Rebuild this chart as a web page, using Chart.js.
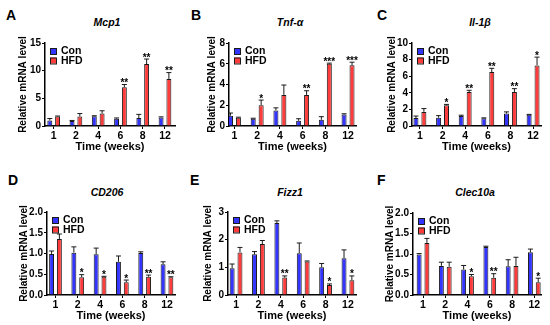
<!DOCTYPE html>
<html>
<head>
<meta charset="utf-8">
<script src="https://cdn.jsdelivr.net/npm/chart.js@4.4.1/dist/chart.umd.min.js"></script>
<style>
    body { margin: 0; background: #fff; width: 550px; height: 325px; position: relative; overflow: hidden; font-family: "Liberation Sans", Arial, sans-serif; }
    .letter { position: absolute; font-weight: bold; font-size: 14px; line-height: 14px; color: #000; }
    .gene { position: absolute; font-weight: bold; font-style: italic; font-size: 10.5px; color: #000; transform: translate(-50%, -50%); white-space: nowrap; }
    canvas { position: absolute; }
</style>
</head>
<body>
<script>
// Semaines (étiquettes de l'axe X)
const weeks = ['1', '2', '4', '6', '8', '12'];
const seriesNames = ['Con', 'HFD'];

// Mcp1
const mcp1Con = [1.0, 0.9, 1.75, 1.3, 1.45, 1.55];
const mcp1ConErr = [0.35, 0.1, 0.1, 0.15, 0.65, 0.1];
const mcp1Hfd = [1.7, 1.7, 2.25, 7.0, 11.2, 8.5];
const mcp1HfdErr = [0.1, 0.55, 0.5, 0.5, 0.9, 1.15];
const mcp1Stars = ['', '', '', '**', '**', '**'];

// Tnf-α
const tnfCon = [1.0, 0.7, 1.5, 0.5, 0.6, 1.1];
const tnfConErr = [0.25, 0.05, 0.25, 0.2, 0.3, 0.08];
const tnfHfd = [0.8, 2.0, 3.0, 3.0, 6.0, 5.85];
const tnfHfdErr = [0.05, 0.5, 0.95, 0.4, 0.06, 0.3];
const tnfStars = ['', '*', '', '**', '***', '***'];

// Il-1β
const il1bCon = [0.95, 1.0, 1.2, 0.93, 1.5, 1.35];
const il1bConErr = [0.25, 0.25, 0.1, 0.05, 0.2, 0.05];
const il1bHfd = [1.7, 2.5, 4.1, 6.5, 4.1, 7.3];
const il1bHfdErr = [0.4, 0.1, 0.2, 0.45, 0.4, 1.0];
const il1bStars = ['', '*', '**', '**', '**', '*'];

// CD206
const cd206Con = [0.99, 1.02, 0.98, 0.8, 1.01, 0.74];
const cd206ConErr = [0.07, 0.14, 0.15, 0.14, 0.03, 0.06];
const cd206Hfd = [1.35, 0.43, 0.44, 0.31, 0.44, 0.43];
const cd206HfdErr = [0.12, 0.06, 0.01, 0.05, 0.04, 0.01];
const cd206Stars = ['', '*', '*', '*', '**', '**'];

// Fizz1
const fizz1Con = [0.97, 1.47, 2.6, 1.51, 1.0, 1.33];
const fizz1ConErr = [0.15, 0.1, 0.08, 0.37, 0.14, 0.3];
const fizz1Hfd = [1.54, 1.84, 0.63, 1.21, 0.36, 0.53];
const fizz1HfdErr = [0.18, 0.13, 0.06, 0.02, 0.04, 0.16];
const fizz1Stars = ['', '', '**', '', '*', '*'];

// Clec10a
const clec10aCon = [0.99, 0.71, 0.62, 1.17, 0.7, 1.04];
const clec10aConErr = [0.02, 0.09, 0.1, 0.02, 0.16, 0.08];
const clec10aHfd = [1.27, 0.69, 0.46, 0.42, 0.71, 0.31];
const clec10aHfdErr = [0.11, 0.11, 0.04, 0.1, 0.21, 0.1];
const clec10aStars = ['', '', '*', '**', '', '*'];

const BLUE = '#3434ff';
const RED = '#ff3c3c';
const EDGE = '#1a1a1a';
const FONT = '"Liberation Sans", Arial, sans-serif';

// Mise en page des panneaux
const panels = [
    { letter: 'A', gene: 'Mcp1', con: mcp1Con, conErr: mcp1ConErr, hfd: mcp1Hfd, hfdErr: mcp1HfdErr, stars: mcp1Stars,
      yMax: 15, step: 5, dec: 0, axisX: 45, right: 175, top: 43, bottom: 126, yTitleX: 23, xMin: -0.39, xMax: 5.45,
      letterX: 6, letterY: 8, geneX: 107, geneY: 22 },
    { letter: 'B', gene: 'Tnf-α', con: tnfCon, conErr: tnfConErr, hfd: tnfHfd, hfdErr: tnfHfdErr, stars: tnfStars,
      yMax: 8, step: 2, dec: 0, axisX: 229, right: 356, top: 43, bottom: 126, yTitleX: 212, xMin: -0.24, xMax: 5.35,
      letterX: 191, letterY: 8, geneX: 290, geneY: 22 },
    { letter: 'C', gene: 'Il-1β', con: il1bCon, conErr: il1bConErr, hfd: il1bHfd, hfdErr: il1bHfdErr, stars: il1bStars,
      yMax: 10, step: 2, dec: 0, axisX: 412, right: 541, top: 43, bottom: 126, yTitleX: 392, xMin: -0.35, xMax: 5.35,
      letterX: 377, letterY: 8, geneX: 480, geneY: 22 },
    { letter: 'D', gene: 'CD206', con: cd206Con, conErr: cd206ConErr, hfd: cd206Hfd, hfdErr: cd206HfdErr, stars: cd206Stars,
      yMax: 2, step: 0.5, dec: 1, axisX: 47, right: 175, top: 212, bottom: 295, yTitleX: 24, xMin: -0.38, xMax: 5.36,
      letterX: 8, letterY: 173, geneX: 107, geneY: 192 },
    { letter: 'E', gene: 'Fizz1', con: fizz1Con, conErr: fizz1ConErr, hfd: fizz1Hfd, hfdErr: fizz1HfdErr, stars: fizz1Stars,
      yMax: 3, step: 1, dec: 0, axisX: 228, right: 356, top: 212, bottom: 295, yTitleX: 208, xMin: -0.36, xMax: 5.36,
      letterX: 190, letterY: 173, geneX: 290, geneY: 192 },
    { letter: 'F', gene: 'Clec10a', con: clec10aCon, conErr: clec10aConErr, hfd: clec10aHfd, hfdErr: clec10aHfdErr, stars: clec10aStars,
      yMax: 2, step: 0.5, dec: 1, axisX: 413, right: 541, top: 213, bottom: 295, yTitleX: 390, xMin: -0.45, xMax: 5.3,
      letterX: 377, letterY: 173, geneX: 475, geneY: 192 }
];

// Barres d'erreur (vers le haut uniquement), étoiles et légende
const errorBarPlugin = {
    id: 'errorBars',
    afterDatasetsDraw(chart) {
        const ctx = chart.ctx;
        const yScale = chart.scales.y;
        ctx.save();
        chart.data.datasets.forEach((ds, i) => {
            const meta = chart.getDatasetMeta(i);
            meta.data.forEach((bar, j) => {
                const v = ds.data[j].y;
                const topPx = yScale.getPixelForValue(v + ds.errors[j]);
                ctx.strokeStyle = EDGE;
                ctx.lineWidth = 1;
                ctx.beginPath();
                ctx.moveTo(bar.x, bar.y);
                ctx.lineTo(bar.x, topPx);
                ctx.moveTo(bar.x - 2.5, topPx);
                ctx.lineTo(bar.x + 2.5, topPx);
                ctx.stroke();
                if (ds.stars && ds.stars[j]) {
                    ctx.fillStyle = '#000';
                    ctx.font = 'bold 10px ' + FONT;
                    ctx.textAlign = 'center';
                    ctx.textBaseline = 'alphabetic';
                    ctx.fillText(ds.stars[j], bar.x, topPx + 1.5);
                }
            });
        });
        ctx.restore();
    },
    afterDraw(chart) {
        const ctx = chart.ctx;
        const area = chart.chartArea;
        ctx.save();
        chart.data.datasets.forEach((ds, i) => {
            const cy = area.top + 8 + i * 9.5;
            ctx.fillStyle = ds.backgroundColor;
            ctx.strokeStyle = EDGE;
            ctx.lineWidth = 1;
            ctx.fillRect(area.left + 5, cy - 3, 6, 6);
            ctx.strokeRect(area.left + 5.5, cy - 2.5, 6, 6);
            ctx.fillStyle = '#000';
            ctx.font = 'bold 10.5px ' + FONT;
            ctx.textAlign = 'left';
            ctx.textBaseline = 'middle';
            ctx.fillText(ds.label, area.left + 16, cy + 0.5);
        });
        ctx.restore();
    }
};

function createPanel(p) {
    const letter = document.createElement('div');
    letter.className = 'letter';
    letter.textContent = p.letter;
    letter.style.left = p.letterX + 'px';
    letter.style.top = p.letterY + 'px';
    document.body.appendChild(letter);

    const gene = document.createElement('div');
    gene.className = 'gene';
    gene.textContent = p.gene;
    gene.style.left = p.geneX + 'px';
    gene.style.top = p.geneY + 'px';
    document.body.appendChild(gene);

    const Y_W = 45, X_H = 28, PAD_TOP = 15, PAD_RIGHT = 8;
    const left = p.axisX - Y_W;
    const canvas = document.createElement('canvas');
    canvas.width = p.right - left + PAD_RIGHT;
    canvas.height = p.bottom + X_H - (p.top - PAD_TOP);
    canvas.style.left = left + 'px';
    canvas.style.top = (p.top - PAD_TOP) + 'px';
    document.body.appendChild(canvas);

    const tickFont = { family: FONT, size: 10, weight: 'bold' };

    new Chart(canvas.getContext('2d'), {
        type: 'bar',
        data: {
            datasets: [
                {
                    label: seriesNames[0],
                    data: p.con.map((v, i) => ({ x: i, y: v })),
                    errors: p.conErr,
                    backgroundColor: BLUE,
                    borderColor: EDGE,
                    borderWidth: 1
                },
                {
                    label: seriesNames[1],
                    data: p.hfd.map((v, i) => ({ x: i, y: v })),
                    errors: p.hfdErr,
                    stars: p.stars,
                    backgroundColor: RED,
                    borderColor: EDGE,
                    borderWidth: 1
                }
            ]
        },
        options: {
            responsive: false,
            animation: false,
            devicePixelRatio: 1,
            layout: { padding: { top: PAD_TOP, right: PAD_RIGHT, left: 0, bottom: 0 } },
            categoryPercentage: 0.7,
            barPercentage: 0.63,
            plugins: { legend: { display: false }, tooltip: { enabled: false } },
            scales: {
                x: {
                    type: 'linear',
                    min: p.xMin,
                    max: p.xMax,
                    offset: false,
                    afterBuildTicks: s => { s.ticks = weeks.map((w, i) => ({ value: i })); },
                    afterFit: s => { s.height = X_H; },
                    grid: { display: true, offset: false, drawOnChartArea: false, drawTicks: true, tickLength: 3, color: '#000', lineWidth: 1 },
                    border: { display: true, color: '#000', width: 1.5 },
                    ticks: {
                        autoSkip: false,
                        maxRotation: 0,
                        padding: 1,
                        color: '#000',
                        font: { family: FONT, size: 10.5, weight: 'bold' },
                        callback: v => weeks[v]
                    },
                    title: { display: true, text: 'Time (weeks)', color: '#000', font: { family: FONT, size: 11, weight: 'bold' }, padding: { top: 6, bottom: 0 } }
                },
                y: {
                    min: 0,
                    max: p.yMax,
                    afterFit: s => { s.width = Y_W; },
                    grid: { display: true, drawOnChartArea: false, drawTicks: true, tickLength: 3, color: '#000', lineWidth: 1 },
                    border: { display: true, color: '#000', width: 1.5 },
                    ticks: {
                        stepSize: p.step,
                        padding: 1,
                        color: '#000',
                        font: tickFont,
                        callback: v => v.toFixed(p.dec)
                    },
                    title: {
                        display: true,
                        text: 'Relative mRNA level',
                        color: '#000',
                        font: { family: FONT, size: 10, weight: 'bold' },
                        padding: { top: p.yTitleX - left - 6, bottom: 0 }
                    }
                }
            }
        },
        plugins: [errorBarPlugin]
    });
}

panels.forEach(createPanel);
</script>
</body>
</html>
